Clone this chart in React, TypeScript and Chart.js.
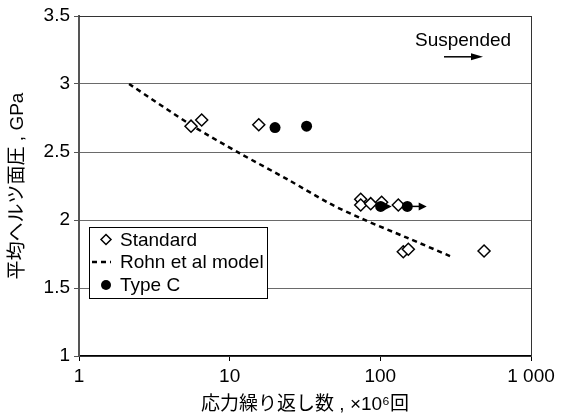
import React, { useEffect, useRef } from 'react';
import { Chart, registerables } from 'chart.js';

Chart.register(...registerables);

const FONT = '"Liberation Sans", Arial, "Noto Sans CJK JP", sans-serif';
const FS = 19;

// Standard specimens (diamonds)
const standardX = [5.54, 6.52, 15.6, 74.1, 74.1, 86.3, 102, 131.6, 142, 153.4, 488];
const standardY = [2.69, 2.735, 2.7, 2.152, 2.11, 2.12, 2.13, 2.11, 1.767, 1.785, 1.772];
// Type C specimens (filled circles)
const typeCX = [20.0, 32.4, 100.5, 151];
const typeCY = [2.68, 2.69, 2.1, 2.1];
// Rohn et al model (dashed curve)
const modelX = [2.15, 5.71, 11.7, 25, 46.3, 75.2, 150, 290];
const modelY = [3.0, 2.69, 2.49, 2.29, 2.12, 2.01, 1.87, 1.735];
// Suspended tests (arrows)
const suspendedFromX = [100.5, 151];
const suspendedToX = [119, 203];
const suspendedY = [2.1, 2.1];

const seriesLabels = ['Standard', 'Rohn et al model', 'Type C'];
const xTickValues = [1, 10, 100, 1000];
const xTickLabels = ['1', '10', '100', '1 000'];
const yTickValues = [1, 1.5, 2, 2.5, 3, 3.5];
const xTitle = '応力繰り返し数 , ×10⁶回';
const yTitle = '平均ヘルツ面圧 , GPa';
const noteText = 'Suspended';
const noteX = 354;
const noteY = 3.32;
const noteArrowFromX = 264.6;
const noteArrowToX = 480;
const noteArrowY = 3.2;

function drawArrow(ctx: CanvasRenderingContext2D, x1: number, y: number, x2: number, headLen: number, headHalf: number) {
  ctx.save();
  ctx.strokeStyle = '#000';
  ctx.fillStyle = '#000';
  ctx.lineWidth = 1.5;
  ctx.beginPath();
  ctx.moveTo(x1, y);
  ctx.lineTo(x2 - headLen + 1, y);
  ctx.stroke();
  ctx.beginPath();
  ctx.moveTo(x2, y);
  ctx.lineTo(x2 - headLen, y - headHalf);
  ctx.lineTo(x2 - headLen, y + headHalf);
  ctx.closePath();
  ctx.fill();
  ctx.restore();
}

const extrasPlugin = {
  id: 'extras',
  afterDatasetsDraw(chart: any) {
    const { ctx, chartArea: ca, scales } = chart;
    const xs = scales.x;
    const ys = scales.y;
    // right and top border
    ctx.save();
    ctx.strokeStyle = '#333';
    ctx.lineWidth = 1;
    ctx.beginPath();
    ctx.moveTo(Math.round(ca.right) + 0.5, ca.top);
    ctx.lineTo(Math.round(ca.right) + 0.5, ca.bottom);
    ctx.moveTo(ca.left, Math.round(ca.top) + 0.5);
    ctx.lineTo(ca.right, Math.round(ca.top) + 0.5);
    ctx.stroke();
    ctx.restore();
    // suspended arrows
    for (let i = 0; i < suspendedFromX.length; i++) {
      const x1 = xs.getPixelForValue(suspendedFromX[i]);
      const x2 = xs.getPixelForValue(suspendedToX[i]);
      const y = ys.getPixelForValue(suspendedY[i]);
      drawArrow(ctx, x1, y, x2, 8, 4);
    }
    // note
    ctx.save();
    ctx.font = FS + 'px ' + FONT;
    ctx.fillStyle = '#000';
    ctx.textAlign = 'center';
    ctx.textBaseline = 'middle';
    ctx.fillText(noteText, xs.getPixelForValue(noteX), ys.getPixelForValue(noteY));
    ctx.restore();
    drawArrow(
      ctx,
      xs.getPixelForValue(noteArrowFromX),
      ys.getPixelForValue(noteArrowY),
      xs.getPixelForValue(noteArrowToX),
      12,
      3.5
    );
  },
  afterDraw(chart: any) {
    const { ctx, chartArea: ca } = chart;
    const left = ca.left + 10;
    const top = ca.top + 211;
    const w = 178;
    const h = 71;
    ctx.save();
    ctx.fillStyle = '#fff';
    ctx.fillRect(left, top, w, h);
    ctx.strokeStyle = '#000';
    ctx.lineWidth = 1;
    ctx.strokeRect(Math.round(left) + 0.5, Math.round(top) + 0.5, w, h);
    const rows = [top + 12.5, top + 35, top + 58];
    const mx = left + 17;
    // diamond
    ctx.lineWidth = 1.5;
    ctx.beginPath();
    ctx.moveTo(mx, rows[0] - 5);
    ctx.lineTo(mx + 5, rows[0]);
    ctx.lineTo(mx, rows[0] + 5);
    ctx.lineTo(mx - 5, rows[0]);
    ctx.closePath();
    ctx.fillStyle = '#fff';
    ctx.fill();
    ctx.stroke();
    // dashes
    ctx.lineWidth = 2.5;
    ctx.setLineDash([5, 4]);
    ctx.beginPath();
    ctx.moveTo(left + 3, rows[1]);
    ctx.lineTo(left + 22, rows[1]);
    ctx.stroke();
    ctx.setLineDash([]);
    // circle
    ctx.fillStyle = '#000';
    ctx.beginPath();
    ctx.arc(mx, rows[2], 5, 0, Math.PI * 2);
    ctx.fill();
    // text
    ctx.font = FS + 'px ' + FONT;
    ctx.textAlign = 'left';
    ctx.textBaseline = 'middle';
    for (let i = 0; i < seriesLabels.length; i++) {
      ctx.fillText(seriesLabels[i], left + 31, rows[i] + 1);
    }
    ctx.restore();
  },
};

export default function App() {
  const ref = useRef<HTMLCanvasElement>(null);
  useEffect(() => {
    const toPts = (xs: number[], ys: number[]) => xs.map((x, i) => ({ x, y: ys[i] }));
    const chart = new Chart(ref.current as HTMLCanvasElement, {
      type: 'scatter',
      data: {
        datasets: [
          {
            label: seriesLabels[2],
            data: toPts(typeCX, typeCY),
            pointStyle: 'circle',
            pointRadius: 5.5,
            backgroundColor: '#000',
            borderColor: '#000',
            borderWidth: 0,
            order: 0,
          },
          {
            label: seriesLabels[0],
            data: toPts(standardX, standardY),
            pointStyle: 'rectRot',
            pointRadius: 6,
            backgroundColor: '#fff',
            borderColor: '#000',
            borderWidth: 1.5,
            order: 1,
          },
          {
            label: seriesLabels[1],
            data: toPts(modelX, modelY),
            showLine: true,
            pointRadius: 0,
            borderColor: '#000',
            borderWidth: 2.5,
            borderDash: [5, 4],
            tension: 0.3,
            order: 2,
          } as any,
        ],
      },
      options: {
        animation: false,
        responsive: false,
        layout: { padding: { left: 0, top: 16, right: 31, bottom: 0 } },
        plugins: { legend: { display: false }, tooltip: { enabled: false } },
        scales: {
          x: {
            type: 'logarithmic',
            min: 1,
            max: 1000,
            afterBuildTicks: (s: any) => {
              s.ticks = xTickValues.map((v) => ({ value: v }));
            },
            afterFit: (s: any) => {
              s.height = 62;
            },
            ticks: {
              autoSkip: false,
              maxRotation: 0,
              padding: 4,
              color: '#000',
              font: { family: FONT, size: FS },
              callback: (v: any) => {
                const i = xTickValues.indexOf(Number(v));
                return i >= 0 ? xTickLabels[i] : '';
              },
            },
            grid: { drawOnChartArea: false, drawTicks: true, tickLength: 5, tickColor: '#000' },
            border: { color: '#000', width: 1.5 },
            title: {
              display: true,
              text: xTitle,
              color: '#000',
              font: { family: FONT, size: FS },
              padding: { top: 0, bottom: 2 },
            },
          },
          y: {
            min: 1,
            max: 3.5,
            afterBuildTicks: (s: any) => {
              s.ticks = yTickValues.map((v) => ({ value: v }));
            },
            afterFit: (s: any) => {
              s.width = 79;
            },
            ticks: {
              padding: 4,
              color: '#000',
              font: { family: FONT, size: FS },
              callback: (v: any) => String(v),
            },
            grid: { color: '#6a6a6a', lineWidth: 1, drawTicks: true, tickLength: 5, tickColor: '#555' },
            border: { color: '#555', width: 2 },
            title: {
              display: true,
              text: yTitle,
              color: '#000',
              font: { family: FONT, size: FS },
              padding: { top: 6, bottom: 0 },
            },
          },
        },
      },
      plugins: [extrasPlugin],
    });
    return () => chart.destroy();
  }, []);
  return (
    <div style={{ position: 'fixed', left: 0, top: 0, width: 562, height: 418, background: '#fff' }}>
      <canvas ref={ref} width={562} height={418} style={{ width: 562, height: 418, display: 'block' }} />
    </div>
  );
}
